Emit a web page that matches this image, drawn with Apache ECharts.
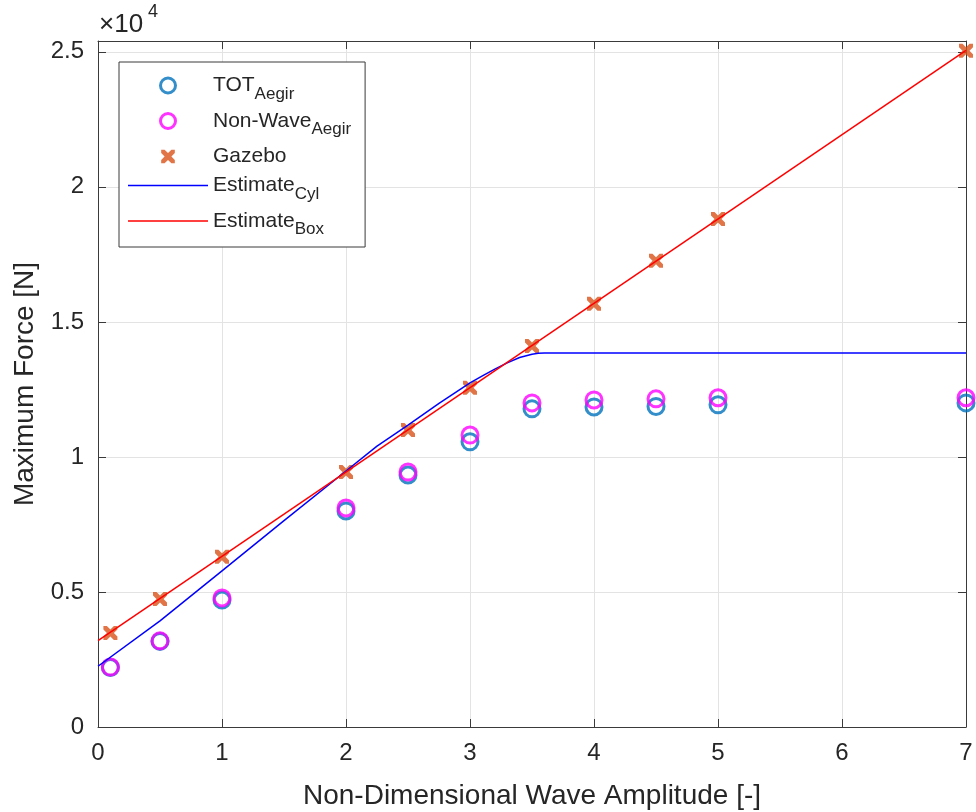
<!DOCTYPE html>
<html>
<head>
<meta charset="utf-8">
<script src="https://cdn.jsdelivr.net/npm/echarts@6/dist/echarts.min.js"></script>
<style>html,body{margin:0;padding:0;background:#fff}#c{width:976px;height:812px}</style>
</head>
<body>
<div id="c"></div>
<script>
// ---- data ----
var ampX = [0.1, 0.5, 1, 2, 2.5, 3, 3.5, 4, 4.5, 5, 7];
var totAegir = [2200, 3170, 4700, 8000, 9330, 10560, 11780, 11850, 11870, 11930, 12000];
var nonWaveAegir = [2220, 3190, 4780, 8110, 9440, 10810, 12000, 12110, 12150, 12190, 12190];
var gazebo = [3480, 4740, 6300, 9440, 11000, 12560, 14110, 15670, 17260, 18810, 25040];
var cylX = [0, 0.5, 1, 1.5, 2, 2.25, 2.5, 2.75, 3, 3.1, 3.2, 3.3, 3.4, 3.5, 3.55, 3.6, 7];
var cylY = [2250, 3930, 5780, 7640, 9480, 10400, 11180, 11980, 12740, 13000, 13250, 13480, 13680, 13800, 13835, 13850, 13850];
var boxX = [0, 7];
var boxY = [3200, 25050];
var xTicks = [0, 1, 2, 3, 4, 5, 6, 7];
var yTickLabels = ['0', '0.5', '1', '1.5', '2', '2.5'];

function pairs(xs, ys) { return xs.map(function (x, i) { return [x, ys[i]]; }); }

var FONT = 'Liberation Sans, Arial, Helvetica, sans-serif';
var TXT = '#262626';
var AX = '#3a3a3a';
var GRID = '#e3e3e3';

var xPath = 'path://M0,0 L2.5,0 L5,2.5 L7.5,0 L10,0 L10,2.5 L7.5,5 L10,7.5 L10,10 L7.5,10 L5,7.5 L2.5,10 L0,10 L0,7.5 L2.5,5 L0,2.5 Z';
var xPathLegend = 'path://M-0.5,-0.5 L-0.5,-0.5 Z M10.5,10.5 L10.5,10.5 Z M0,0 L2.5,0 L5,2.5 L7.5,0 L10,0 L10,2.5 L7.5,5 L10,7.5 L10,10 L7.5,10 L5,7.5 L2.5,10 L0,10 L0,7.5 L2.5,5 L0,2.5 Z';
var linePathLegend = 'path://M0,0 H80 V1.5 H0 Z';

var legendRich = {
  '__TOT': '{m|TOT}{s|Aegir}',
  '__NW': '{m|Non-Wave}{s|Aegir}',
  '__GZ': '{m|Gazebo}',
  '__CYL': '{m|Estimate}{s|Cyl}',
  '__BOX': '{m|Estimate}{s|Box}'
};

var chart = echarts.init(document.getElementById('c'), null, { renderer: 'canvas' });
var option = {
  animation: false,
  backgroundColor: '#fff',
  textStyle: { fontFamily: FONT },
  grid: { left: 98, right: 10, top: 41, bottom: 85, containLabel: false, outerBoundsMode: 'none' },
  xAxis: [{
    type: 'value', min: 0, max: 7, interval: 1, position: 'bottom',
    name: 'Non-Dimensional Wave Amplitude [-]', nameLocation: 'middle', nameGap: 55,
    nameTextStyle: { fontSize: 28, color: TXT, fontFamily: FONT },
    axisLine: { show: true, lineStyle: { color: AX, width: 1 } },
    axisTick: { show: true, inside: true, length: 8, lineStyle: { color: AX } },
    axisLabel: { fontSize: 24, color: TXT, margin: 14, fontFamily: FONT,
      formatter: function (v) { return xTicks.indexOf(v) >= 0 ? String(v) : ''; } },
    splitLine: { show: true, lineStyle: { color: GRID, width: 1 } }
  }, {
    type: 'value', min: 0, max: 7, interval: 1, position: 'top',
    axisLine: { show: true, onZero: false, lineStyle: { color: AX, width: 1 } },
    axisTick: { show: true, inside: true, length: 8, lineStyle: { color: AX } },
    axisLabel: { show: false }, splitLine: { show: false }
  }],
  yAxis: [{
    type: 'value', min: 0, max: 25400, interval: 5000, position: 'left',
    name: 'Maximum Force [N]', nameLocation: 'middle', nameGap: 51,
    nameTextStyle: { fontSize: 28, color: TXT, fontFamily: FONT },
    axisLine: { show: true, lineStyle: { color: AX, width: 1 } },
    axisTick: { show: true, inside: true, length: 8, lineStyle: { color: AX } },
    axisLabel: { fontSize: 24, color: TXT, margin: 14, fontFamily: FONT,
      formatter: function (v) {
        if (v % 5000 !== 0) return '';
        return yTickLabels[v / 5000];
      } },
    splitLine: { show: true, lineStyle: { color: GRID, width: 1 } }
  }, {
    type: 'value', min: 0, max: 25400, interval: 5000, position: 'right',
    axisLine: { show: true, onZero: false, lineStyle: { color: AX, width: 1 } },
    axisTick: { show: true, inside: true, length: 8, lineStyle: { color: AX } },
    axisLabel: { show: false }, splitLine: { show: false }
  }],
  legend: {
    orient: 'vertical', left: 119, top: 62,
    padding: [13, 14, 9, 9],
    backgroundColor: '#fff', borderColor: AX, borderWidth: 1, borderRadius: 0,
    itemWidth: 80, itemHeight: 15, itemGap: 8,
    symbolKeepAspect: true,
    data: [
      { name: '__TOT', icon: 'circle', itemStyle: { color: 'rgba(255,255,255,0)', borderColor: '#0072BD', borderWidth: 3 } },
      { name: '__NW', icon: 'circle', itemStyle: { color: 'rgba(255,255,255,0)', borderColor: '#FF00FF', borderWidth: 3 } },
      { name: '__GZ', icon: xPathLegend, itemStyle: { color: '#D95319', borderWidth: 0 } },
      { name: '__CYL', icon: linePathLegend, itemStyle: { color: '#0000FF', borderWidth: 0 } },
      { name: '__BOX', icon: linePathLegend, itemStyle: { color: '#FF0000', borderWidth: 0 } }
    ],
    formatter: function (name) { return legendRich[name]; },
    textStyle: {
      fontFamily: FONT, color: TXT,
      rich: {
        m: { fontSize: 21, lineHeight: 34, color: TXT, fontFamily: FONT },
        s: { fontSize: 17, lineHeight: 12, verticalAlign: 'bottom', color: TXT, fontFamily: FONT }
      }
    }
  },
  series: [{
    name: '__TOT', type: 'scatter', data: pairs(ampX, totAegir),
    symbol: 'circle', symbolSize: 16,
    itemStyle: { color: 'rgba(255,255,255,0)', borderColor: '#0072BD', borderWidth: 3 }
  }, {
    name: '__NW', type: 'scatter', data: pairs(ampX, nonWaveAegir),
    symbol: 'circle', symbolSize: 16,
    itemStyle: { color: 'rgba(255,255,255,0)', borderColor: '#FF00FF', borderWidth: 3 }
  }, {
    name: '__GZ', type: 'scatter', data: pairs(ampX, gazebo),
    symbol: xPath, symbolSize: 14,
    itemStyle: { color: '#D95319' }
  }, {
    name: '__CYL', type: 'line', data: pairs(cylX, cylY),
    showSymbol: false, symbol: 'none',
    lineStyle: { color: '#0000FF', width: 1.5 }, itemStyle: { color: '#0000FF' }
  }, {
    name: '__BOX', type: 'line', data: pairs(boxX, boxY),
    showSymbol: false, symbol: 'none',
    lineStyle: { color: '#FF0000', width: 1.5 }, itemStyle: { color: '#FF0000' }
  }],
  graphic: [{
    type: 'text', left: 99, top: 12,
    style: { text: '×10', fontSize: 26, fill: TXT, fontFamily: FONT }
  }, {
    type: 'text', left: 148, top: 3,
    style: { text: '4', fontSize: 18, fill: TXT, fontFamily: FONT }
  }]
};
chart.setOption(option);
</script>
</body>
</html>
